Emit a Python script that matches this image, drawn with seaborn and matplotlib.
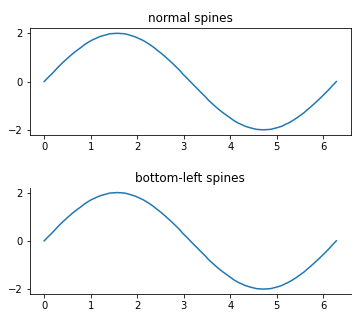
import numpy as np
import pandas as pd
import matplotlib
matplotlib.use("Agg")
import matplotlib.pyplot as plt
import seaborn as sns

# curve values (same curve in both panels)
x_vals = [0.00, 0.08, 0.16, 0.24, 0.31, 0.39, 0.47, 0.55, 0.63, 0.71,
          0.79, 0.86, 0.94, 1.02, 1.10, 1.18, 1.26, 1.34, 1.41, 1.49,
          1.57, 1.65, 1.73, 1.81, 1.88, 1.96, 2.04, 2.12, 2.20, 2.28,
          2.36, 2.43, 2.51, 2.59, 2.67, 2.75, 2.83, 2.91, 2.98, 3.06,
          3.14, 3.22, 3.30, 3.38, 3.46, 3.53, 3.61, 3.69, 3.77, 3.85,
          3.93, 4.01, 4.08, 4.16, 4.24, 4.32, 4.40, 4.48, 4.56, 4.63,
          4.71, 4.79, 4.87, 4.95, 5.03, 5.11, 5.18, 5.26, 5.34, 5.42,
          5.50, 5.58, 5.65, 5.73, 5.81, 5.89, 5.97, 6.05, 6.13, 6.20, 6.28]
y_vals = [0.00, 0.16, 0.31, 0.47, 0.62, 0.77, 0.91, 1.05, 1.18, 1.30,
          1.41, 1.52, 1.62, 1.71, 1.78, 1.85, 1.90, 1.94, 1.98, 1.99,
          2.00, 1.99, 1.98, 1.94, 1.90, 1.85, 1.78, 1.71, 1.62, 1.52,
          1.41, 1.30, 1.18, 1.05, 0.91, 0.77, 0.62, 0.47, 0.31, 0.16,
          0.00, -0.16, -0.31, -0.47, -0.62, -0.77, -0.91, -1.05, -1.18, -1.30,
          -1.41, -1.52, -1.62, -1.71, -1.78, -1.85, -1.90, -1.94, -1.98, -1.99,
          -2.00, -1.99, -1.98, -1.94, -1.90, -1.85, -1.78, -1.71, -1.62, -1.52,
          -1.41, -1.30, -1.18, -1.05, -0.91, -0.77, -0.62, -0.47, -0.31, -0.16, 0.00]
y_ticks = [-2, 0, 2]
titles = ['normal spines', 'bottom-left spines']

data = pd.DataFrame({'x': x_vals, 'y': y_vals})

fig, (ax1, ax2) = plt.subplots(2, 1, figsize=(352 / 72, 331 / 72), dpi=72)
fig.subplots_adjust(left=0.084, right=0.997, top=0.914, bottom=0.112, hspace=0.5)

for ax, title in zip((ax1, ax2), titles):
    sns.lineplot(data=data, x='x', y='y', ax=ax, sort=False, color='#1f77b4', linewidth=1.5)
    ax.set_title(title)
    ax.set_xlabel('')
    ax.set_ylabel('')
    ax.set_yticks(y_ticks)

# second panel keeps only bottom and left spines
sns.despine(ax=ax2)

fig.savefig('out.png', dpi=72)
